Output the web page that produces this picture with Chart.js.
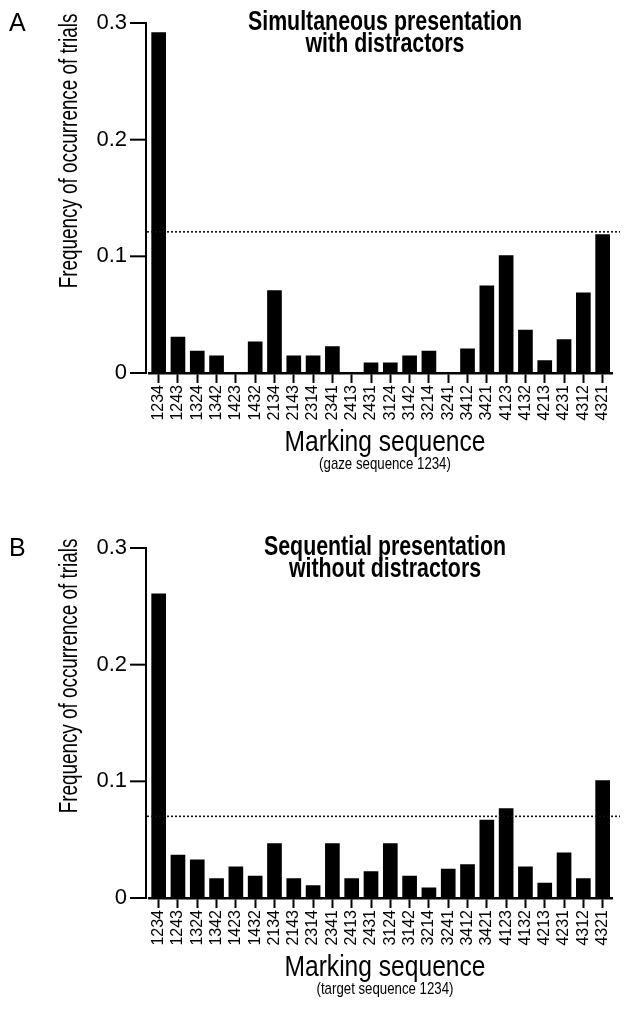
<!DOCTYPE html>
<html><head><meta charset="utf-8">
<script src="https://cdn.jsdelivr.net/npm/chart.js@4.4.1/dist/chart.umd.min.js"></script>
<style>
html,body{margin:0;padding:0;background:#fff;width:624px;height:1032px;overflow:hidden}
.panel{position:absolute;left:0;width:624px}
</style></head><body>
<div class="panel" id="pa"><canvas id="ca"></canvas></div>
<div class="panel" id="pb"><canvas id="cb"></canvas></div>
<script>
// ---- data ----
const categories = ['1234','1243','1324','1342','1423','1432','2134','2143','2314','2341','2413','2431',
                    '3124','3142','3214','3241','3412','3421','4123','4132','4213','4231','4312','4321'];
const freqA = [0.292,0.031,0.019,0.015,0,0.027,0.071,0.015,0.015,0.023,0,0.009,
               0.009,0.015,0.019,0,0.021,0.075,0.101,0.037,0.011,0.029,0.069,0.119];
const freqB = [0.261,0.037,0.033,0.017,0.027,0.019,0.047,0.017,0.011,0.047,0.017,0.023,
               0.047,0.019,0.009,0.025,0.029,0.067,0.077,0.027,0.013,0.039,0.017,0.101];
const chanceA = 0.121;
const chanceB = 0.070;
const yTickLabels = ['0','0.1','0.2','0.3'];
const titleA = ['Simultaneous presentation','with distractors'];
const titleB = ['Sequential presentation','without distractors'];
const yTitle = 'Frequency of occurrence of trials';
const xTitle = 'Marking sequence';
const xSubA = '(gaze sequence 1234)';
const xSubB = '(target sequence 1234)';

// ---- fonts: condensed sans ----
function fontAvailable(name) {
  const c = document.createElement('canvas').getContext('2d');
  const t = 'mmmmmmmmmmlllllllliiiii 0123456789';
  c.font = '40px monospace'; const a = c.measureText(t).width;
  c.font = '40px "' + name + '", monospace'; const b = c.measureText(t).width;
  return a !== b;
}
const NARROW = fontAvailable('Liberation Sans Narrow');
const FAM = NARROW ? '"Liberation Sans Narrow", "Arial Narrow", sans-serif'
                   : '"Liberation Sans", Arial, sans-serif';
const COND = NARROW ? 1 : 0.82;
const XT_SIZE = NARROW ? 19 : 16;
const YT_SIZE = NARROW ? 25 : 22;
const PLAIN = '"Liberation Sans", Arial, sans-serif';
Chart.defaults.font.family = FAM;
Chart.defaults.color = '#000';

function condText(ctx, text, x, y, font, sx, rot) {
  ctx.save();
  ctx.translate(x, y);
  if (rot) ctx.rotate(rot);
  ctx.scale(COND * sx, 1);
  ctx.font = font;
  ctx.fillText(text, 0, 0);
  ctx.restore();
}

function makePanel(wrapId, canvasId, top, H, letter, vals, chance, title, sub) {
  const wrap = document.getElementById(wrapId);
  wrap.style.top = top + 'px';
  wrap.style.height = H + 'px';
  const cv = document.getElementById(canvasId);
  cv.width = 624; cv.height = H;

  const decor = {
    id: 'decor',
    afterDraw(chart) {
      const ctx = chart.ctx, ys = chart.scales.y, ca = chart.chartArea;
      ctx.save();
      ctx.strokeStyle = '#000';
      // y axis line (detached from x axis)
      const ax = ca.left - 3;
      ctx.lineWidth = 2;
      ctx.beginPath();
      ctx.moveTo(ax, ys.getPixelForValue(ys.max) - 1);
      ctx.lineTo(ax, ys.getPixelForValue(ys.min) + 1);
      ctx.stroke();
      ys.ticks.forEach(t => {
        const y = ys.getPixelForValue(t.value);
        ctx.beginPath(); ctx.moveTo(ax - 16, y); ctx.lineTo(ax + 1, y); ctx.stroke();
      });
      // chance level dotted line
      ctx.strokeStyle = '#111';
      ctx.lineWidth = 1.6;
      ctx.setLineDash([2, 2]);
      const yc = ys.getPixelForValue(chance);
      ctx.beginPath(); ctx.moveTo(ca.left - 2, yc); ctx.lineTo(620, yc); ctx.stroke();
      ctx.setLineDash([]);
      // texts
      ctx.fillStyle = '#000';
      ctx.textAlign = 'center';
      ctx.textBaseline = 'alphabetic';
      condText(ctx, title[0], 385, 30, 'bold 28px ' + FAM, 0.93);
      condText(ctx, title[1], 385, 52, 'bold 28px ' + FAM, 0.93);
      condText(ctx, xTitle, 385, 451, '30px ' + FAM, 1.0);
      condText(ctx, sub, 385, 469, '17px ' + FAM, 0.95);
      ctx.textBaseline = 'middle';
      condText(ctx, yTitle, 70, 151, '25px ' + FAM, 0.92, -Math.PI / 2);
      ctx.textAlign = 'left';
      ctx.textBaseline = 'alphabetic';
      ctx.font = '25px ' + PLAIN;
      ctx.fillText(letter, 9, 31);
      ctx.restore();
    }
  };

  return new Chart(cv, {
    type: 'bar',
    data: {
      labels: categories,
      datasets: [{ data: vals, backgroundColor: '#000', borderWidth: 0,
                   barPercentage: 0.76, categoryPercentage: 1 }]
    },
    options: {
      responsive: false, animation: false,
      layout: { padding: { left: 50, top: 23, right: 7, bottom: 0 } },
      plugins: { legend: { display: false }, tooltip: { enabled: false }, title: { display: false } },
      scales: {
        x: {
          grid: { display: true, drawOnChartArea: false, drawTicks: true, tickLength: 10,
                  tickWidth: 2, tickColor: '#000', color: '#000', offset: false },
          border: { display: true, color: '#000', width: 2.4 },
          ticks: { autoSkip: false, maxRotation: 90, minRotation: 90, padding: 2,
                   color: '#000', font: { size: XT_SIZE } },
          afterFit: (s) => { s.height = H - 373; }
        },
        y: {
          min: 0, max: 0.3,
          ticks: { stepSize: 0.1, padding: 22, color: '#000', font: { size: YT_SIZE },
                   callback: (v, i) => yTickLabels[i] },
          grid: { display: false, drawTicks: false },
          border: { display: false },
          title: { display: false },
          afterFit: (s) => { s.width = 99; s.paddingTop = 0; s.paddingBottom = 0; }
        }
      }
    },
    plugins: [decor]
  });
}

makePanel('pa', 'ca', 0, 525, 'A', freqA, chanceA, titleA, xSubA);
makePanel('pb', 'cb', 525, 507, 'B', freqB, chanceB, titleB, xSubB);
</script>
</body></html>
